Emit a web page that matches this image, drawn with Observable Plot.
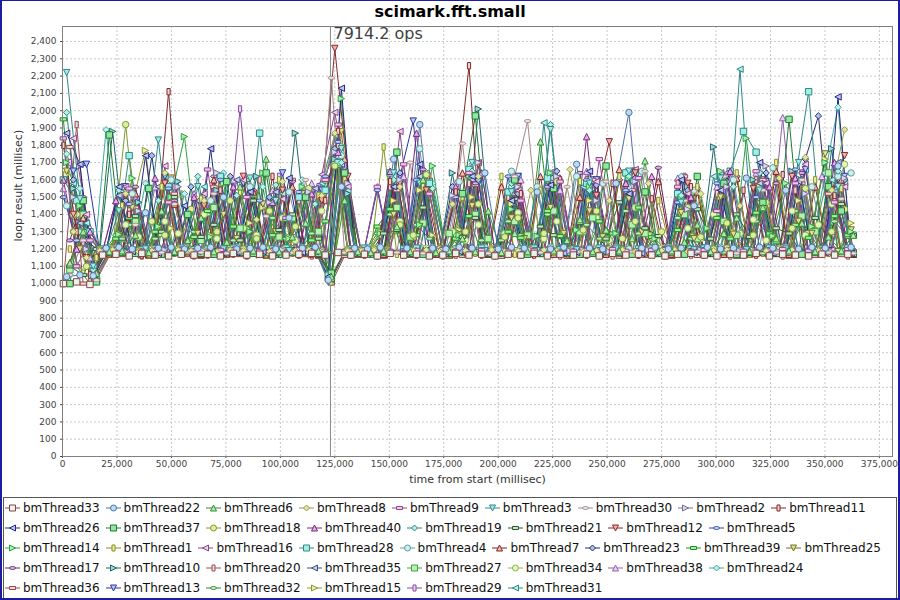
<!DOCTYPE html>
<html><head><meta charset="utf-8">
<script src="https://cdn.jsdelivr.net/npm/d3@7"></script>
<script src="https://cdn.jsdelivr.net/npm/@observablehq/plot@0.6"></script>
<style>
body{margin:0;background:#fff;}
#wrap{position:relative;width:900px;height:600px;overflow:hidden;font-family:"DejaVu Sans",sans-serif;background:#fff;}
#title{position:absolute;left:0;top:0;width:900px;height:24px;line-height:24px;text-align:center;font-weight:bold;font-size:16px;color:#000;}
#chart{position:absolute;left:0;top:24px;}
#legend{position:absolute;left:3px;top:497px;width:894px;height:102px;box-sizing:border-box;border:1px solid #555;padding-left:1px;}
.row{height:20px;display:flex;align-items:center;white-space:nowrap;}
.item{display:flex;align-items:center;margin-right:6px;font-size:12px;color:#111;}
.item svg{margin-right:3px;display:block;}
#border{position:absolute;left:0;top:0;width:900px;height:600px;box-sizing:border-box;border:2px solid #1c1ca0;border-top-width:1px;pointer-events:none;}
</style></head>
<body>
<div id="wrap">
  <div id="title"></div>
  <div id="chart"></div>
  <div id="legend"></div>
  <div id="border"></div>
</div>
<script>
// ---------- text ----------
const chartTitle = "scimark.fft.small";
const xLabel = "time from start (millisec)";
const yLabel = "loop result (millisec)";
const markerTime = 123000;
const markerLabel = "7914.2 ops";

// ---------- ticks ----------
const xTicks = [0,25000,50000,75000,100000,125000,150000,175000,200000,225000,250000,275000,300000,325000,350000,375000];
const yTicks = [0,100,200,300,400,500,600,700,800,900,1000,1100,1200,1300,1400,1500,1600,1700,1800,1900,2000,2100,2200,2300,2400];

// ---------- sample times (ms) ----------
const tA = [400,6500,12600,18400,24500,30600,36400,42500,48700,54500,
60400,66600,72500,78400,84600,90500,96400,102600,108500,114400,
120600,126500,132400,138600,144500,150400,156600,162500,168400,174600,
180500,186600,192400,198500,204600,210400,216500,222600,228400,234500,
240600,246400,252500,258600,264400,270500,276600,282400,288500,294600,
300400,306500,312600,318400,324500,330600,336400,342500,348600,354400,
360500];
const tB = [1900,8000,14100,20000,25900,32000,38100,44000,49900,56000,
62100,68000,73900,80000,86100,92000,97900,104000,110100,116000,
122000,128000,134100,140000,145900,152000,158100,164000,169900,176000,
182100,188000,193900,200000,206100,212000,217900,224000,230100,236000,
241900,248000,254100,260000,265900,272000,278100,284000,289900,296000,
302100,308000,313900,320000,326100,332000,337900,344000,350100,356000,
362000];
const tC = [3400,9500,15600,21500,27400,33500,39600,45500,51400,57500,
63600,69500,75400,81500,87600,93500,99400,105500,111600,117500,
123400,129500,135600,141500,147400,153500,159600,165500,171400,177500,
183600,189500,195400,201500,207600,213500,219400,225500,231600,237500,
243400,249500,255600,261500,267400,273500,279600,285500,291400,297500,
303600,309500,315400,321500,327600,333500,339400,345500,351600,357500,
363000];
const tD = [5000,11000,17100,23000,29000,34900,41000,47000,53100,59000,
65000,70900,77000,83000,89100,95000,101000,106900,113000,119000,
125000,131000,137100,143000,149000,154900,161000,167000,173100,179000,
185000,190900,197000,203000,209100,215000,221000,226900,233000,239000,
245100,251000,257000,262900,269000,275000,281100,287000,293000,298900,
305000,311000,317100,323000,329000,334900,341000,347000,353100,359000];

// ---------- loop results (ms) per thread ----------
const bmThread33 = [1000,1010,995,1165,1170,1160,1175,1165,1160,1170,
1165,1170,1160,1175,1165,1170,1160,1165,1170,1175,
1165,1180,1165,1170,1160,1175,1165,1170,1160,1165,
1175,1165,1170,1160,1170,1165,1175,1160,1170,1165,
1170,1160,1175,1165,1170,1165,1160,1170,1175,1165,
1160,1170,1165,1175,1160,1170,1165,1160,1170,1165,1170];
const bmThread22 = [1040,1050,1045,1205,1210,1200,1410,1205,1210,1200,
1205,1210,1500,1200,1205,1210,1200,1380,1205,1210,
1020,1560,1205,1200,1210,1720,1205,1920,1205,1200,
1210,1205,1640,1200,1210,1205,1530,1200,1210,1690,
1205,1200,1580,1990,1205,1210,1200,1205,1450,1210,
1200,1205,1610,1210,1205,1540,1200,1210,1205,1680,1210];
const bmThread6 = [1120,1300,1060,1185,1190,1280,1180,1420,1185,1250,
1380,1185,1240,1560,1190,1720,1185,1270,1350,1190,
1040,1480,1185,1180,1190,1330,1185,1600,1180,1190,
1260,1185,1420,1180,1290,1185,1820,1190,1250,1370,
1185,1310,1190,1260,1710,1185,1190,1240,1340,1185,
1290,1380,1185,1440,1260,1190,1350,1185,1270,1190,1280];
const bmThread8 = [1300,1150,1190,1195,1520,1185,1190,1640,1195,1190,
1480,1185,1195,1190,1370,1185,1590,1190,1195,1510,
1870,1190,1190,1195,1185,1560,1190,1195,1185,1460,
1190,1620,1195,1185,1190,1540,1195,1190,1660,1185,
1190,1480,1195,1185,1580,1190,1195,1185,1520,1190,
1195,1450,1185,1190,1610,1195,1730,1190,1540,1890];
const bmThread9 = [1840,1100,1250,1195,1200,1550,1190,1195,1470,1200,
1190,1660,1195,1200,1500,1190,1195,1380,1200,1190,
1600,1920,1195,1200,1560,1190,1690,1195,1520,1200,
1190,1640,1195,1200,1190,1480,1195,1200,1590,1190,
1195,1720,1200,1190,1610,1195,1200,1560,1190,1195,
1420,1200,1190,1650,1195,1200,1580,1190,1195,1470,1200];
const bmThread3 = [2220,1490,1100,1195,1420,1190,1200,1830,1195,1190,
1560,1195,1200,1190,1610,1195,1480,1190,1200,1195,
1010,1780,1195,1190,1200,1640,1195,1580,1190,1200,
1195,1700,1190,1200,1530,1195,1190,1890,1200,1195,
1580,1190,1200,1650,1195,1190,1200,1470,1195,1190,
1610,1200,1195,1540,1190,1200,1700,1195,1190,1560,1200];
const bmThread30 = [1050,1250,1020,1180,1185,1340,1175,1180,1460,1185,
1180,1520,1175,1185,1180,1390,1175,1180,1600,1185,
2190,1180,1180,1175,1185,1180,1700,1175,1180,1185,
1810,1180,1175,1185,1620,1940,1180,1175,1560,1185,
1180,1590,1175,1185,1650,1180,1175,1480,1185,1180,
1620,1175,1185,1540,1180,1175,1600,1185,1180,1490,1175];
const bmThread2 = [1500,1200,1190,1195,1185,1420,1190,1195,1560,1185,
1190,1640,1195,1185,1190,1470,1195,1185,1530,1190,
1760,1580,1195,1185,1190,1600,1195,1185,1190,1510,
1195,1700,1185,1190,1560,1195,1185,1620,1190,1195,
1480,1185,1190,1590,1195,1185,1190,1430,1195,1185,
1560,1190,1195,1680,1185,1190,1520,1195,1185,1610];
const bmThread11 = [1800,1300,1050,1170,1175,1400,1165,1170,2110,1175,
1165,1170,1540,1175,1165,1170,1620,1175,1165,1170,
1480,1880,1170,1165,1175,1590,1170,1165,1175,1170,
1530,2260,1165,1170,1175,1520,1165,1170,1600,1175,
1165,1170,1580,1175,1165,1490,1170,1175,1560,1165,
1170,1175,1540,1165,1170,1630,1175,1165,1170,1510,1175];
const bmThread26 = [1870,1690,1040,1180,1560,1185,1740,1175,1180,1450,
1185,1780,1175,1180,1530,1185,1175,1610,1180,1185,
1040,2130,1180,1175,1185,1560,1180,1690,1175,1180,
1185,1620,1180,1175,1480,1185,1180,1570,1175,1180,
1650,1185,1180,1520,1175,1180,1185,1600,1180,1175,
1540,1185,1180,1700,1175,1180,1590,1185,1180,2080,1175];
const bmThread37 = [1000,1480,1010,1860,1180,1175,1550,1170,1180,1400,
1175,1170,1590,1180,1175,1640,1170,1180,1500,1175,
1060,1640,1175,1170,1180,1760,1175,1170,1180,1175,
1520,1970,1175,1180,1600,1170,1175,1550,1180,1170,
1175,1680,1180,1170,1530,1175,1180,1170,1620,1175,
1580,1170,1180,1470,1175,1950,1170,1180,1560,1420,1175];
const bmThread18 = [1300,1100,1195,1200,1920,1190,1360,1280,1200,1430,
1190,1300,1480,1200,1260,1420,1195,1330,1550,1190,
1680,1195,1195,1200,1190,1340,1280,1630,1200,1190,
1300,1460,1200,1270,1380,1195,1290,1590,1190,1310,
1420,1200,1260,1360,1195,1300,1190,1440,1270,1200,
1350,1190,1280,1470,1200,1320,1550,1195,1300,1430];
const bmThread40 = [1600,1200,1300,1185,1480,1190,1180,1610,1185,1190,
1500,1180,1185,1560,1190,1180,1470,1185,1190,1520,
1180,1760,1185,1190,1180,1650,1185,1870,1190,1180,
1560,1185,1640,1190,1180,1490,1185,1190,1610,1180,
1850,1185,1190,1580,1180,1620,1185,1190,1500,1180,
1185,1650,1190,1180,1560,1185,1610,1190,1180,1700,1185];
const bmThread19 = [1990,1300,1080,1190,1540,1195,1185,1480,1190,1195,
1620,1185,1190,1510,1195,1185,1570,1190,1195,1460,
1030,1700,1190,1185,1195,1600,1190,1185,1550,1195,
1190,1650,1185,1195,1580,1190,1185,1920,1195,1190,
1540,1185,1190,1620,1195,1185,1190,1510,1195,1185,
1190,1560,1195,1640,1185,1190,1580,1195,1185,1650,1190];
const bmThread21 = [1100,1050,1200,1175,1260,1390,1170,1300,1500,1180,
1270,1340,1175,1250,1480,1170,1310,1400,1180,1260,
1020,1175,1175,1180,1290,1310,1175,1440,1180,1170,
1270,1380,1180,1250,1490,1175,1330,1280,1170,1350,
1175,1260,1470,1170,1320,1275,1180,1170,1430,1260,
1180,1400,1270,1175,1320,1290,1170,1380,1265,1460,1280];
const bmThread12 = [1400,1150,1170,1175,1510,1165,1170,1580,1175,1165,
1450,1170,1175,1620,1165,1170,1540,1175,1165,1480,
2360,1620,1170,1175,1165,1580,1170,1540,1175,1165,
1170,1690,1175,1165,1560,1170,1175,1600,1165,1170,
1510,1820,1165,1640,1170,1175,1165,1580,1170,1175,
1175,1165,1550,1170,1175,1620,1165,1170,1540,1740];
const bmThread5 = [1500,1250,1100,1195,1200,1460,1190,1195,1550,1200,
1190,1195,1600,1200,1190,1480,1195,1200,1530,1190,
1620,1820,1195,1200,1540,1190,1195,1600,1200,1190,
1500,1195,1200,1190,1620,1195,1200,1560,1190,1195,
1600,1200,1190,1540,1195,1200,1190,1470,1195,1200,
1580,1190,1195,1500,1200,1190,1660,1195,1200,1550,1190];
const bmThread14 = [1700,1450,1050,1180,1285,1610,1175,1330,1500,1850,
1185,1270,1580,1180,1300,1640,1175,1260,1560,1185,
1180,2070,1185,1175,1290,1590,1185,1340,1680,1180,
1280,1620,1175,1180,1430,1185,1275,1640,1180,1310,
1560,1175,1290,1610,1185,1260,1180,1500,1185,1320,
1650,1180,1840,1185,1275,1580,1180,1330,1700,1175,1300];
const bmThread1 = [1200,1060,1150,1175,1450,1180,1170,1560,1175,1180,
1490,1170,1175,1530,1180,1170,1600,1175,1180,1510,
1010,1600,1175,1180,1790,1170,1175,1560,1180,1170,
1500,1175,1180,1620,1170,1175,1540,1180,1170,1590,
1175,1180,1620,1170,1175,1480,1180,1170,1560,1175,
1180,1640,1170,1175,1700,1180,1170,1600,1175,1550,1180];
const bmThread16 = [1840,1400,1190,1195,1560,1185,1190,1680,1195,1185,
1520,1190,1195,1600,1185,1190,1490,1195,1185,1630,
1990,1560,1190,1195,1185,1880,1190,1620,1195,1185,
1190,1700,1195,1185,1540,1190,1195,1610,1185,1190,
1590,1195,1185,1660,1190,1195,1185,1520,1190,1195,
1640,1185,1190,1580,1195,1185,1690,1190,1195,1560];
const bmThread28 = [1600,1480,1300,1200,1205,1740,1195,1200,1560,1205,
1195,1200,1620,1205,1195,1870,1200,1205,1500,1195,
1540,1700,1200,1205,1195,1640,1200,1205,1580,1195,
1200,1660,1205,1195,1530,1200,1205,1610,1195,1200,
1580,1205,1195,1640,1200,1205,1195,1520,1200,1205,
1195,1650,1880,1760,1205,1195,1600,2110,1200,1540,1205];
const bmThread4 = [1450,1300,1100,1205,1210,1520,1200,1205,1600,1210,
1200,1480,1205,1210,1560,1200,1205,1530,1210,1200,
1050,1740,1205,1210,1200,1620,1205,1780,1210,1200,
1590,1205,1210,1205,1650,1205,1560,1210,1200,1620,
1205,1580,1210,1200,1650,1205,1210,1200,1540,1205,
1210,1600,1200,1205,1670,1210,1200,1560,1205,1620,1640];
const bmThread7 = [1120,1380,1030,1175,1180,1520,1170,1175,1460,1180,
1170,1600,1175,1180,1530,1170,1175,1560,1180,1170,
1040,1720,1175,1180,1170,1590,1175,1180,1170,1175,
1640,1180,1170,1560,1175,1180,1620,1170,1175,1500,
1180,1170,1660,1175,1180,1590,1170,1175,1530,1180,
1170,1610,1175,1180,1650,1170,1175,1560,1180,1600,1170];
const bmThread23 = [1600,1250,1185,1190,1480,1180,1740,1185,1190,1560,
1180,1185,1620,1190,1180,1500,1185,1190,1540,1180,
1780,1185,1185,1190,1180,1640,1185,1190,1180,1560,
1185,1600,1190,1180,1520,1185,1190,1650,1180,1185,
1570,1190,1180,1610,1185,1190,1180,1540,1185,1190,
1590,1180,1185,1640,1190,1180,1720,1970,1185,1600];
const bmThread39 = [1950,1100,1000,1170,1260,1380,1165,1300,1550,1175,
1270,1420,1170,1330,1600,1165,1280,1370,1175,1250,
1360,1680,1170,1165,1330,1430,1170,1280,1600,1175,
1260,1390,1170,1175,1300,1265,1170,1420,1275,1165,
1170,1360,1290,1165,1440,1270,1175,1310,1520,1170,
1380,1260,1165,1410,1290,1175,1340,1265,1170,1390,1280];
const bmThread25 = [1650,1200,1040,1180,1270,1440,1175,1320,1610,1185,
1290,1180,1400,1260,1175,1460,1300,1185,1520,1250,
1020,1880,1180,1185,1275,1400,1180,1330,1530,1175,
1280,1450,1185,1175,1380,1260,1185,1440,1290,1180,
1420,1270,1175,1490,1300,1185,1175,1410,1260,1185,
1500,1285,1180,1460,1270,1175,1360,1290,1750,1185,1310];
const bmThread17 = [1250,1500,1060,1190,1195,1560,1185,1190,1480,1195,
1185,1620,1190,1195,1540,1185,1190,1590,1195,1185,
1030,1190,1190,1195,1185,1600,1190,1660,1195,1185,
1190,1580,1195,1185,1620,1190,1195,1540,1185,1640,
1190,1195,1600,1185,1190,1670,1195,1185,1550,1190,
1195,1620,1185,1190,1580,1195,1640,1185,1190,1570,1195];
const bmThread10 = [1550,1300,1185,1880,1190,1470,1180,1185,1590,1190,
1180,1540,1185,1190,1620,1180,1185,1870,1190,1180,
1720,1520,1185,1190,1180,1590,1185,1190,1180,1640,
1185,2010,1190,1180,1560,1185,1190,1600,1180,1185,
1520,1190,1180,1650,1185,1190,1180,1560,1185,1790,
1190,1180,1600,1185,1190,1650,1180,1185,1780,1190];
const bmThread20 = [1000,1920,1010,1165,1170,1420,1160,1165,1500,1170,
1160,1165,1560,1170,1160,1600,1165,1170,1480,1160,
1530,1800,1165,1170,1160,1560,1165,1170,1620,1160,
1165,1580,1170,1160,1500,1165,1170,1560,1160,1165,
1600,1170,1160,1540,1165,1170,1160,1580,1165,1170,
1520,1160,1165,1600,1170,1160,1540,1165,1170,1480,1160];
const bmThread35 = [1450,1350,1060,1190,1510,1195,1185,1560,1190,1195,
1480,1185,1190,1600,1195,1185,1530,1190,1195,1550,
1040,1690,1190,1185,1195,1570,1190,1620,1185,1195,
1190,1600,1185,1195,1540,1190,1185,1610,1195,1190,
1560,1185,1190,1630,1195,1185,1190,1500,1195,1185,
1640,1190,1195,1580,1185,1190,1600,1195,1185,1700,1190];
const bmThread27 = [1080,1400,1020,1180,1260,1360,1175,1290,1490,1185,
1250,1440,1180,1320,1520,1175,1270,1380,1185,1300,
1050,1180,1180,1185,1175,1440,1270,1350,1185,1290,
1180,1400,1260,1175,1360,1280,1185,1420,1175,1300,
1380,1260,1175,1340,1290,1185,1175,1400,1260,1185,
1360,1280,1180,1440,1250,1175,1390,1300,1640,1185,1280];
const bmThread34 = [1400,1300,1200,1205,1340,1270,1200,1360,1290,1195,
1400,1260,1205,1320,1280,1200,1380,1250,1195,1420,
1700,1200,1200,1205,1195,1360,1270,1205,1195,1300,
1250,1340,1205,1290,1410,1200,1260,1360,1195,1300,
1380,1250,1195,1440,1280,1205,1195,1320,1260,1400,
1205,1290,1370,1250,1205,1420,1280,1340,1460,1690];
const bmThread38 = [1550,1200,1150,1190,1480,1195,1185,1560,1190,1195,
1520,1185,1190,1600,1195,1185,1540,1190,1195,1580,
1185,1740,1190,1195,1560,1185,1620,1190,1195,1185,
1580,1190,1640,1195,1185,1600,1190,1195,1540,1185,
1650,1190,1195,1580,1185,1190,1195,1610,1185,1190,
1560,1195,1185,1640,1190,1960,1195,1185,1620,1190,1195];
const bmThread24 = [1750,1550,1080,1890,1200,1195,1580,1190,1200,1520,
1195,1190,1640,1200,1195,1560,1190,1200,1600,1195,
1050,1760,1195,1190,1200,1620,1195,1190,1580,1200,
1195,1690,1190,1200,1560,1195,1190,1640,1200,1195,
1600,1190,1200,1560,1195,1190,1200,1620,1195,1190,
1580,1200,1195,1650,1190,1200,1600,1195,1640,2020,1195];
const bmThread36 = [1790,1000,1020,1160,1165,1440,1155,1160,1520,1165,
1155,1560,1160,1165,1480,1155,1160,1600,1165,1155,
1000,1160,1160,1165,1155,1540,1160,1600,1165,1155,
1160,1570,1165,1155,1520,1160,1165,1590,1155,1160,
1600,1165,1155,1540,1160,1165,1155,1620,1160,1165,
1560,1155,1160,1600,1165,1155,1580,1160,1520,1165,1160];
const bmThread13 = [1650,1690,1185,1190,1560,1180,1185,1620,1190,1180,
1500,1185,1190,1580,1180,1185,1640,1190,1180,1540,
1680,1185,1185,1190,1180,1620,1940,1185,1190,1180,
1185,1580,1190,1180,1620,1185,1190,1560,1180,1185,
1600,1190,1180,1650,1185,1190,1180,1540,1185,1190,
1620,1180,1185,1590,1190,1180,1660,1185,1190,1620];
const bmThread32 = [1500,1300,1050,1175,1280,1340,1170,1260,1480,1180,
1300,1400,1175,1250,1320,1170,1380,1260,1180,1290,
1590,1720,1175,1180,1290,1400,1175,1340,1260,1170,
1300,1620,1250,1170,1360,1280,1180,1400,1270,1175,
1340,1260,1170,1420,1290,1180,1170,1380,1260,1180,
1400,1270,1175,1360,1280,1170,1420,1300,1180,1360,1270];
const bmThread15 = [1630,1400,1060,1185,1290,1460,1770,1180,1320,1520,
1190,1280,1500,1185,1350,1440,1180,1270,1520,1190,
1030,1800,1185,1190,1300,1480,1185,1540,1280,1180,
1310,1500,1190,1180,1460,1270,1190,1420,1300,1185,
1480,1260,1180,1540,1290,1190,1180,1420,1275,1190,
1500,1300,1185,1560,1280,1180,1480,1310,1720,1190,1350];
const bmThread29 = [1700,1240,1050,1180,1185,1500,1175,1180,1560,1185,
1175,1540,1180,2010,1175,1185,1620,1180,1175,1560,
1030,1680,1180,1185,1175,1600,1180,1560,1185,1175,
1180,1620,1185,1175,1580,1180,1185,1640,1175,1180,
1600,1185,1175,1560,1180,1185,1175,1620,1180,1185,
1540,1175,1180,1600,1185,1175,1640,1180,1560,1185,1180];
const bmThread31 = [1580,1350,1190,1195,1540,1185,1190,1620,1195,1185,
1560,1190,1195,1600,1185,1190,1520,1195,1185,1580,
1860,1540,1190,1195,1185,1600,1190,1640,1195,1185,
1190,1580,1195,1185,1620,1190,1930,1195,1185,1560,
1600,1190,1195,1640,1185,1190,1195,1560,1190,1620,
1195,2240,1190,1580,1185,1195,1660,1190,1600,1585];

// ---------- series (legend order) ----------
const seriesNames = ["bmThread33","bmThread22","bmThread6","bmThread8","bmThread9","bmThread3","bmThread30","bmThread2","bmThread11",
"bmThread26","bmThread37","bmThread18","bmThread40","bmThread19","bmThread21","bmThread12","bmThread5",
"bmThread14","bmThread1","bmThread16","bmThread28","bmThread4","bmThread7","bmThread23","bmThread39","bmThread25",
"bmThread17","bmThread10","bmThread20","bmThread35","bmThread27","bmThread34","bmThread38","bmThread24",
"bmThread36","bmThread13","bmThread32","bmThread15","bmThread29","bmThread31"];
const seriesValues = [bmThread33,bmThread22,bmThread6,bmThread8,bmThread9,bmThread3,bmThread30,bmThread2,bmThread11,
bmThread26,bmThread37,bmThread18,bmThread40,bmThread19,bmThread21,bmThread12,bmThread5,
bmThread14,bmThread1,bmThread16,bmThread28,bmThread4,bmThread7,bmThread23,bmThread39,bmThread25,
bmThread17,bmThread10,bmThread20,bmThread35,bmThread27,bmThread34,bmThread38,bmThread24,
bmThread36,bmThread13,bmThread32,bmThread15,bmThread29,bmThread31];
const seriesTimeGroup = ["A","B","C","D","A","B","C","D","A","B","C","D","A","B","C","D","A","B","C","D",
"A","B","C","D","A","B","C","D","A","B","C","D","A","B","C","D","A","B","C","D"];
const legendRowSizes = [9,8,9,8,6];

// ---------- palette ----------
const strokeColors = ["#8c4040","#5070a8","#309030","#909850","#904890","#308888","#a08888","#707090","#802828","#202880",
"#207830","#809830","#782878","#308878","#305830","#882828","#3048a0","#30a040","#889020","#884888",
"#308880","#689898","#802020","#203070","#209020","#707020","#602868","#206868","#905050","#405080",
"#40a040","#90b058","#9060a8","#40a8a0","#904848","#283898","#308838","#909830","#8848a0","#308888"];
const fillColors = ["#e6f4ee","#b8dcf0","#b0e8b0","#e0e8a0","#f0c8f0","#a8e8e8","#f0e0e0","#d8d8f0","#f0d0d0","#c0c8f0",
"#90e8a0","#d8f0a0","#e0b0e8","#b0f0e8","#c0e8c0","#f0b0b0","#c0d0f8","#a8f0b0","#e8f0a8","#f0d0f0",
"#a0f0e8","#c8f0f0","#f0c0b0","#b0c0e8","#a0f0a0","#e0e0a0","#d8b8e0","#a0d8d8","#f0d8d8","#c8d0f0",
"#b8f0b8","#e0f8b8","#e8d0f8","#c0f0f0","#f8d8d8","#b8c8f8","#c0f0c0","#e8f0b0","#f0d0f8","#b8f0e8"];

// ---------- marker shapes (JFreeChart default sequence) ----------
const KAPPA = 0.5523;
const shapeTypes = [
  {draw(c,s){const h=Math.sqrt(s/Math.PI);c.rect(-h,-h,2*h,2*h);}},
  {draw(c,s){const h=Math.sqrt(s/Math.PI);c.moveTo(h,0);c.arc(0,0,h,0,2*Math.PI);}},
  {draw(c,s){const h=Math.sqrt(s/Math.PI);c.moveTo(0,-h);c.lineTo(h,h);c.lineTo(-h,h);c.closePath();}},
  {draw(c,s){const h=Math.sqrt(s/Math.PI);c.moveTo(0,-h);c.lineTo(h,0);c.lineTo(0,h);c.lineTo(-h,0);c.closePath();}},
  {draw(c,s){const h=Math.sqrt(s/Math.PI);c.rect(-h,-h/2,2*h,h);}},
  {draw(c,s){const h=Math.sqrt(s/Math.PI);c.moveTo(-h,-h);c.lineTo(h,-h);c.lineTo(0,h);c.closePath();}},
  {draw(c,s){const rx=Math.sqrt(s/Math.PI),ry=rx/2,k=KAPPA;c.moveTo(rx,0);
    c.bezierCurveTo(rx,ry*k,rx*k,ry,0,ry);c.bezierCurveTo(-rx*k,ry,-rx,ry*k,-rx,0);
    c.bezierCurveTo(-rx,-ry*k,-rx*k,-ry,0,-ry);c.bezierCurveTo(rx*k,-ry,rx,-ry*k,rx,0);c.closePath();}},
  {draw(c,s){const h=Math.sqrt(s/Math.PI);c.moveTo(-h,-h);c.lineTo(h,0);c.lineTo(-h,h);c.closePath();}},
  {draw(c,s){const h=Math.sqrt(s/Math.PI);c.rect(-h/2,-h,h,2*h);}},
  {draw(c,s){const h=Math.sqrt(s/Math.PI);c.moveTo(h,-h);c.lineTo(-h,0);c.lineTo(h,h);c.closePath();}}
];

// ---------- build data ----------
const timeGroups = {A: tA, B: tB, C: tC, D: tD};
const series = seriesNames.map((name, k) => {
  const t = timeGroups[seriesTimeGroup[k]], v = seriesValues[k];
  const n = Math.min(t.length, v.length);
  return d3.range(n).map(i => ({name, time: t[i], value: v[i]}));
});

document.getElementById("title").textContent = chartTitle;

const commaFormat = d3.format(",");
const gridStyle = {stroke: "#c8c8c8", strokeWidth: 1, strokeDasharray: "2,2"};
const marks = [
  Plot.ruleY(yTicks.slice(1), {y: d => d, ...gridStyle}),
  Plot.ruleX(xTicks.slice(1), {x: d => d, ...gridStyle}),
  Plot.ruleX([markerTime], {x: d => d, stroke: "#8a8a8a", strokeWidth: 1})
];
for (let k = series.length - 1; k >= 0; k--) {
  marks.push(Plot.line(series[k], {x: "time", y: "value", stroke: strokeColors[k], strokeWidth: 1}));
}
for (let k = series.length - 1; k >= 0; k--) {
  marks.push(Plot.dot(series[k], {x: "time", y: "value", symbol: shapeTypes[k % 10], r: 3.2,
    fill: fillColors[k], stroke: strokeColors[k], strokeWidth: 1}));
}
marks.push(Plot.frame({stroke: "#808080"}));
marks.push(Plot.text([markerLabel], {x: () => markerTime, text: d => d, frameAnchor: "top",
  textAnchor: "start", lineAnchor: "top", dx: 3, dy: 1, fontSize: 16, fill: "#404040"}));
marks.push(Plot.text([xLabel], {text: d => d, frameAnchor: "bottom", dy: 26, fontSize: 11, fill: "#333"}));
marks.push(Plot.text([yLabel], {text: d => d, frameAnchor: "left", rotate: -90, dx: -44, fontSize: 11, fill: "#333"}));

const chart = Plot.plot({
  width: 900, height: 468,
  marginTop: 2, marginBottom: 36, marginLeft: 62, marginRight: 8,
  style: {fontFamily: "DejaVu Sans", fontSize: "9px", color: "#444", background: "transparent"},
  x: {domain: [0, 381000], ticks: xTicks, tickFormat: commaFormat, tickSize: 2, tickPadding: 2, label: null},
  y: {domain: [0, 2487], ticks: yTicks, tickFormat: commaFormat, tickSize: 2, tickPadding: 4, label: null},
  marks
});
document.getElementById("chart").appendChild(chart);

// ---------- legend ----------
const legend = document.getElementById("legend");
let idx = 0;
for (const size of legendRowSizes) {
  const row = document.createElement("div");
  row.className = "row";
  for (let j = 0; j < size; j++, idx++) {
    const item = document.createElement("div");
    item.className = "item";
    const path = d3.symbol().type(shapeTypes[idx % 10]).size(Math.PI * 9)();
    item.innerHTML = `<svg width="15" height="10" viewBox="0 0 15 10">
      <line x1="0" x2="15" y1="5" y2="5" stroke="${strokeColors[idx]}" stroke-width="1"/>
      <path d="${path}" transform="translate(7.5,5)" fill="${fillColors[idx]}" stroke="${strokeColors[idx]}" stroke-width="1"/>
    </svg><span>${seriesNames[idx]}</span>`;
    row.appendChild(item);
  }
  legend.appendChild(row);
}
</script>
</body></html>
